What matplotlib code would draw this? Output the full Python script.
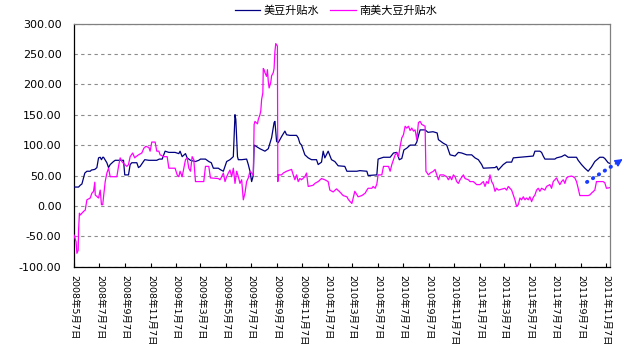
import matplotlib
matplotlib.use('Agg')
import matplotlib.pyplot as plt
import numpy as np
import pandas as pd
from matplotlib.lines import Line2D
from matplotlib.patches import FancyArrowPatch
from matplotlib.ticker import FormatStrFormatter

plt.rcParams['font.family'] = ['DejaVu Sans', 'Noto Sans CJK SC']

start_date = pd.Timestamp('2008-05-07')
end_day = 1288.5

series_names = ['美豆升贴水', '南美大豆升贴水']

us_days = [0, 11, 15, 19, 26, 31, 39, 42, 50, 55, 59, 63, 66, 69, 71, 79, 83, 87, 95, 99,
           119, 122, 131, 135, 139, 151, 155, 159, 165, 170, 180, 199, 205, 212, 219, 228,
           243, 252, 255, 260, 268, 272, 280, 292, 300, 304, 316, 324, 330, 335, 347, 351,
           359, 363, 367, 375, 383, 387, 389, 393, 395, 403, 415, 419, 423, 427, 431, 433,
           447, 459, 467, 475, 481, 483, 487, 491, 499, 507, 511, 519, 535, 539, 543, 547,
           555, 563, 571, 583, 587, 595, 599, 603, 611, 619, 627, 635, 651, 656, 680, 687,
           704, 707, 728, 731, 744, 760, 768, 776, 782, 788, 793, 800, 808, 820, 824, 829,
           832, 844, 851, 863, 873, 876, 888, 896, 904, 916, 924, 932, 944, 956, 964, 972,
           980, 984, 1012, 1016, 1020, 1032, 1040, 1052, 1056, 1104, 1108, 1120, 1124, 1128,
           1132, 1156, 1160, 1172, 1180, 1188, 1208, 1212, 1220, 1228, 1236, 1244, 1252,
           1264, 1272, 1276, 1284, 1288]
us_vals = [31, 31, 34, 36, 54, 57, 57, 59, 60, 63, 79, 80, 76, 80, 80, 71, 63, 68, 73, 75,
           75, 51, 51, 68, 71, 71, 63, 65, 71, 76, 75, 75, 77, 77, 90, 88,
           88, 86, 90, 81, 86, 79, 75, 73, 75, 77, 77, 73, 71, 62, 62, 60,
           57, 65, 73, 76, 81, 150, 142, 81, 76, 76, 77, 68, 57, 40, 50, 100,
           94, 90, 94, 112, 137, 139, 106, 104, 114, 123, 117, 116, 116, 112, 103, 100,
           84, 79, 76, 76, 68, 72, 90, 79, 90, 76, 73, 66, 65, 57, 57, 58,
           57, 50, 51, 77, 80, 80, 87, 88, 76, 78, 92, 95, 100, 100, 105, 118,
           125, 125, 121, 122, 120, 109, 103, 100, 84, 82, 88, 87, 84, 84, 79, 76,
           68, 62, 63, 65, 59, 68, 72, 72, 79, 82, 90, 90, 88, 82,
           77, 77, 79, 81, 84, 80, 80, 75, 68, 62, 57, 64, 73,
           80, 80, 78, 71, 70]

sa_days = [0, 5, 7, 10, 11, 13, 15, 19, 23, 27, 31, 39, 43, 47, 50, 51, 59, 63, 66, 69,
           71, 75, 79, 83, 87, 103, 107, 111, 115, 119, 127, 131, 135, 141, 146, 149, 155,
           163, 168, 173, 180, 183, 187, 195, 199, 204, 207, 216, 224, 228, 243, 248, 252,
           255, 260, 268, 272, 276, 280, 284, 288, 292, 312, 316, 324, 328, 347, 351, 355,
           359, 363, 367, 371, 375, 379, 383, 387, 391, 395, 399, 403, 407, 411, 415, 419,
           423, 427, 431, 433, 435, 441, 443, 447, 449, 451, 454, 455, 457, 459, 463, 465,
           467, 469, 473, 475, 479, 481, 483, 485, 489, 490, 491, 499, 503, 511, 519, 523,
           527, 531, 535, 539, 543, 547, 555, 559, 563, 575, 579, 587, 595, 603, 611, 615,
           623, 631, 639, 647, 656, 660, 668, 675, 683, 692, 700, 704, 707, 716, 719, 724,
           728, 731, 740, 744, 756, 760, 764, 772, 776, 780, 784, 788, 792, 796, 800, 804,
           808, 812, 816, 820, 824, 828, 832, 836, 844, 846, 852, 856, 864, 868, 872, 876,
           880, 888, 896, 900, 904, 908, 912, 916, 920, 924, 928, 936, 940, 948, 952, 960,
           968, 976, 984, 988, 992, 996, 1000, 1004, 1008, 1012, 1016, 1020, 1036, 1040,
           1044, 1048, 1052, 1056, 1060, 1064, 1068, 1072, 1076, 1080, 1084, 1088, 1092,
           1096, 1100, 1104, 1108, 1112, 1116, 1120, 1124, 1132, 1136, 1144, 1148, 1152,
           1156, 1160, 1164, 1168, 1172, 1176, 1180, 1184, 1188, 1196, 1200, 1204, 1208,
           1212, 1216, 1236, 1240, 1244, 1252, 1256, 1272, 1276, 1280, 1288]
sa_vals = [-48, -59, -78, -73, -40, -12, -15, -12, -9, -7, 10, 13, 21, 24, 39, 18, 13, 26, 2, 2,
           15, 40, 54, 62, 48, 48, 65, 79, 73, 70, 65, 68, 81, 87, 79, 81, 84,
           87, 95, 98, 96, 90, 105, 105, 90, 90, 84, 81, 81, 62, 62, 51, 48,
           57, 48, 76, 79, 62, 57, 81, 76, 40, 40, 65, 65, 46, 45, 43, 48,
           54, 40, 48, 54, 59, 48, 62, 37, 57, 48, 37, 43, 10, 21, 40, 46,
           57, 54, 50, 134, 139, 135, 142, 150, 156, 175, 186, 226, 224, 219, 213, 224,
           205, 194, 203, 214, 219, 226, 254, 267, 263, 40, 51, 51, 54, 57, 59, 60,
           51, 43, 51, 40, 45, 43, 48, 54, 32, 34, 37, 40, 45, 43, 40, 26,
           23, 28, 23, 17, 15, 10, 4, 24, 15, 17, 21, 26, 29, 29, 32, 29,
           36, 51, 51, 65, 65, 57, 68, 84, 87, 81, 98, 112, 117, 131, 128, 131,
           124, 128, 123, 125, 109, 137, 139, 134, 131, 57, 51, 54, 57, 60, 51, 43,
           51, 51, 48, 43, 48, 43, 51, 48, 40, 37, 43, 51, 45, 43, 40, 40,
           35, 35, 40, 32, 40, 37, 51, 40, 35, 24, 29, 26, 29, 26,
           32, 29, 26, 18, 10, -1, 2, 13, 10, 15, 10, 13, 10,
           15, 7, 14, 18, 26, 29, 24, 29, 26, 32, 35, 29, 40,
           43, 46, 40, 35, 40, 43, 37, 46, 48, 49, 48, 46, 40,
           29, 17, 17, 18, 21, 26, 40, 40, 38, 29, 30]

tick_labels = ['2008年5月7日', '2008年7月7日', '2008年9月7日', '2008年11月7日',
               '2009年1月7日', '2009年3月7日', '2009年5月7日', '2009年7月7日',
               '2009年9月7日', '2009年11月7日', '2010年1月7日', '2010年3月7日',
               '2010年5月7日', '2010年7月7日', '2010年9月7日', '2010年11月7日',
               '2011年1月7日', '2011年3月7日', '2011年5月7日', '2011年7月7日',
               '2011年9月7日', '2011年11月7日']

W, H = 626, 352
fig = plt.figure(figsize=(W / 100, H / 100), dpi=100)
ax = fig.add_axes([74 / W, 1 - 266.7 / H, (610 - 74) / W, (266.7 - 23.5) / H])

us_dates = start_date + pd.to_timedelta(us_days, unit='D')
sa_dates = start_date + pd.to_timedelta(sa_days, unit='D')
l1, = ax.plot(us_dates, us_vals, color='#000080', lw=0.9, label=series_names[0], zorder=3)
l2, = ax.plot(sa_dates, sa_vals, color='#FF00FF', lw=0.9, label=series_names[1], zorder=4)

ax.set_ylim(-100, 300)
ax.set_yticks(np.arange(-100, 301, 50))
ax.yaxis.set_major_formatter(FormatStrFormatter('%.2f'))
ax.tick_params(axis='y', length=0, pad=9, labelsize=8, colors='black')
ax.grid(axis='y', color='#8c8c8c', linestyle=(0, (3, 3)), lw=0.8)
ax.set_axisbelow(True)

tick_dates = pd.to_datetime(tick_labels, format='%Y年%m月%d日')
ax.set_xlim(start_date, start_date + pd.Timedelta(days=end_day))
ax.set_xticks(tick_dates)
ax.set_xticklabels(tick_labels, rotation=270, ha='center', va='top', fontsize=6.8)
ax.tick_params(axis='x', direction='in', length=3, pad=6, width=0.8)

ax.spines['left'].set_color('black')
ax.spines['bottom'].set_color('black')
ax.spines['top'].set_color('#808080')
ax.spines['right'].set_color('#808080')
for s in ax.spines.values():
    s.set_linewidth(0.9)

fig.legend(handles=[l1, l2], labels=series_names, loc='center',
           bbox_to_anchor=(336 / W, 1 - 11 / H), ncol=2, frameon=False, fontsize=8,
           handlelength=2.3, handletextpad=0.3, columnspacing=1.0)

# decorative dotted blue arrow on the right
fig.add_artist(Line2D([587 / W, 616 / W], [1 - 182 / H, 1 - 163.5 / H], transform=fig.transFigure,
                      color='#1a3cff', lw=2.8, linestyle=(0, (0.1, 1.7)),
                      dash_capstyle='round', solid_capstyle='round'))
fig.add_artist(FancyArrowPatch((613 / W, 1 - 165.5 / H), (625 / W, 1 - 157.5 / H),
                               transform=fig.transFigure, arrowstyle='-|>',
                               mutation_scale=11, color='#1a3cff', lw=1.0))

fig.savefig('out.png', dpi=100)
